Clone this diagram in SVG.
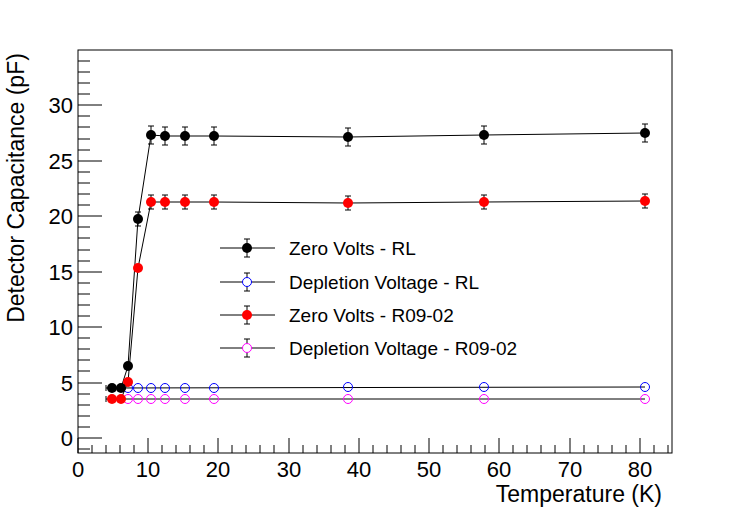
<svg xmlns="http://www.w3.org/2000/svg" width="747" height="509" viewBox="0 0 747 509">
<style>
text{font-family:"Liberation Sans",Arial,sans-serif;fill:#000}
.t{font-size:22px}
.a{font-size:23px}
.l{font-size:19px}
.ax{stroke:#000;stroke-width:1;fill:none}
.ln{stroke:#000;stroke-width:1;fill:none}
.eb{stroke:#000;stroke-width:1}
</style>
<rect width="747" height="509" fill="#fff"/>
<g id="frame">
<rect x="78" y="50" width="594" height="403" class="ax"/>
<path class="ax" d="M78 438h24M78 383h24M78 327h24M78 272h24M78 216h24M78 161h24M78 105h24
M78 449h12M78 427h12M78 416h12M78 405h12M78 394h12M78 371h12M78 360h12M78 349h12M78 338h12M78 316h12M78 305h12M78 294h12M78 283h12M78 261h12M78 250h12M78 238h12M78 227h12M78 205h12M78 194h12M78 183h12M78 172h12M78 150h12M78 139h12M78 127h12M78 116h12M78 94h12M78 83h12M78 72h12M78 61h12"/>
<path class="ax" d="M78 453v-15M148 453v-15M218 453v-15M289 453v-15M359 453v-15M429 453v-15M499 453v-15M570 453v-15M640 453v-15
M92 453v-8M106 453v-8M120 453v-8M134 453v-8M162 453v-8M176 453v-8M190 453v-8M204 453v-8M232 453v-8M246 453v-8M260 453v-8M274 453v-8M303 453v-8M317 453v-8M331 453v-8M345 453v-8M373 453v-8M387 453v-8M401 453v-8M415 453v-8M443 453v-8M457 453v-8M471 453v-8M485 453v-8M513 453v-8M527 453v-8M541 453v-8M555 453v-8M584 453v-8M598 453v-8M612 453v-8M626 453v-8M654 453v-8M668 453v-8"/>
<g class="t" text-anchor="end">
<text x="73" y="446">0</text><text x="73" y="391">5</text><text x="73" y="335">10</text><text x="73" y="280">15</text><text x="73" y="224">20</text><text x="73" y="169">25</text><text x="73" y="113">30</text>
</g>
<g class="t" text-anchor="middle">
<text x="78" y="477">0</text><text x="148" y="477">10</text><text x="218" y="477">20</text><text x="289" y="477">30</text><text x="359" y="477">40</text><text x="429" y="477">50</text><text x="499" y="477">60</text><text x="570" y="477">70</text><text x="640" y="477">80</text>
</g>
<text class="a" x="662" y="502" text-anchor="end">Temperature (K)</text>
<text class="a" transform="translate(24,188) rotate(-90)" text-anchor="middle">Detector Capacitance (pF)</text>
</g>
<g id="connectors">
<polyline class="ln" points="106,388 645,387"/>
<polyline class="ln" points="106,399 645,399"/>
<path class="eb" d="M106 385v6M106 396v6"/>
<polyline class="ln" points="112,388 121,388 128,366 138,219 151,135 165,136 185,136 214,136 348,137 484,135 645,133"/>
<polyline class="ln" points="112,399 121,399 128,382 138,268 151,202 165,202 185,202 214,202 348,203 484,202 645,201"/>
</g>
<g id="errbars" class="eb">
<path d="M138 212v14M135 212h6M135 226h6M151 126v18M148 126h6M148 144h6M165 127v18M162 127h6M162 145h6M185 127v18M182 127h6M182 145h6M214 127v18M211 127h6M211 145h6M348 128v18M345 128h6M345 146h6M484 126v18M481 126h6M481 144h6M645 124v18M642 124h6M642 142h6"/>
<path d="M151 195v14M148 195h6M148 209h6M165 195v14M162 195h6M162 209h6M185 195v14M182 195h6M182 209h6M214 195v14M211 195h6M211 209h6M348 196v14M345 196h6M345 210h6M484 195v14M481 195h6M481 209h6M645 194v14M642 194h6M642 208h6"/>
</g>
<g id="blue" fill="none" stroke="#00f" stroke-width="1">
<circle cx="128" cy="388" r="4.5"/><circle cx="138" cy="388" r="4.5"/><circle cx="151" cy="388" r="4.5"/><circle cx="165" cy="388" r="4.5"/><circle cx="185" cy="388" r="4.5"/><circle cx="214" cy="388" r="4.5"/><circle cx="348" cy="387" r="4.5"/><circle cx="484" cy="387" r="4.5"/><circle cx="645" cy="387" r="4.5"/>
</g>
<g id="magenta" fill="none" stroke="#f0f" stroke-width="1">
<circle cx="128" cy="399" r="4.5"/><circle cx="138" cy="399" r="4.5"/><circle cx="151" cy="399" r="4.5"/><circle cx="165" cy="399" r="4.5"/><circle cx="185" cy="399" r="4.5"/><circle cx="214" cy="399" r="4.5"/><circle cx="348" cy="399" r="4.5"/><circle cx="484" cy="399" r="4.5"/><circle cx="645" cy="399" r="4.5"/>
</g>
<g id="red" fill="#f00">
<circle cx="112" cy="399" r="5"/><circle cx="121" cy="399" r="5"/><circle cx="128" cy="382" r="5"/><circle cx="138" cy="268" r="5"/><circle cx="151" cy="202" r="5"/><circle cx="165" cy="202" r="5"/><circle cx="185" cy="202" r="5"/><circle cx="214" cy="202" r="5"/><circle cx="348" cy="203" r="5"/><circle cx="484" cy="202" r="5"/><circle cx="645" cy="201" r="5"/>
</g>
<g id="black" fill="#000">
<circle cx="112" cy="388" r="5"/><circle cx="121" cy="388" r="5"/><circle cx="128" cy="366" r="5"/><circle cx="138" cy="219" r="5"/><circle cx="151" cy="135" r="5"/><circle cx="165" cy="136" r="5"/><circle cx="185" cy="136" r="5"/><circle cx="214" cy="136" r="5"/><circle cx="348" cy="137" r="5"/><circle cx="484" cy="135" r="5"/><circle cx="645" cy="133" r="5"/>
</g>
<g id="legend">
<path class="eb" d="M220 248h55M247 239v18M244 239h6M244 257h6M220 282h55M247 273v18M244 273h6M244 291h6M220 315h55M247 306v18M244 306h6M244 324h6M220 348h55M247 339v18M244 339h6M244 357h6"/>
<circle cx="247" cy="248" r="5" fill="#000"/>
<circle cx="247" cy="282" r="4.5" fill="#fff" stroke="#00f" stroke-width="1"/>
<circle cx="247" cy="315" r="5" fill="#f00"/>
<circle cx="247" cy="348" r="4.5" fill="#fff" stroke="#f0f" stroke-width="1"/>
<text class="l" x="289" y="255">Zero Volts - RL</text>
<text class="l" x="289" y="289">Depletion Voltage - RL</text>
<text class="l" x="289" y="322">Zero Volts - R09-02</text>
<text class="l" x="289" y="355">Depletion Voltage - R09-02</text>
</g>
</svg>
